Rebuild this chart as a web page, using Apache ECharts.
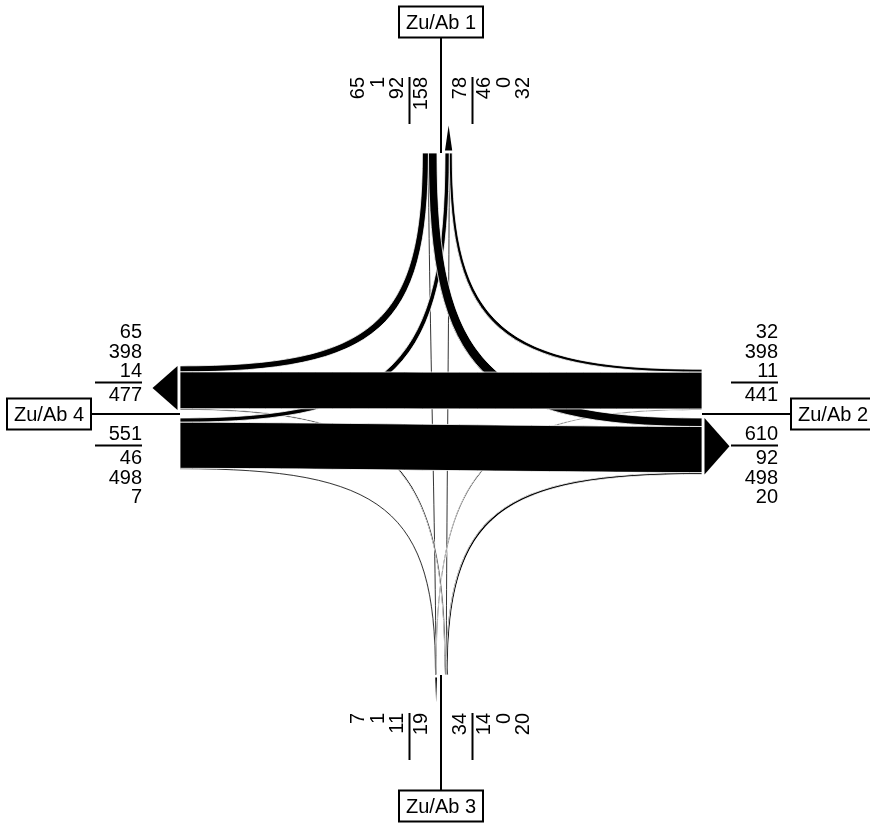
<!DOCTYPE html>
<html>
<head>
<meta charset="utf-8">
<title>Knotenstrombelastungsplan</title>
<script src="https://cdn.jsdelivr.net/npm/echarts@6/dist/echarts.min.js"></script>
<style>
  html, body { margin: 0; padding: 0; background: #fff; }
  #main { width: 870px; height: 824px; }
</style>
</head>
<body>
<div id="main"></div>
<script>
// Zufahrten, im Uhrzeigersinn ab Nord
const armNames = ['Zu/Ab 1', 'Zu/Ab 2', 'Zu/Ab 3', 'Zu/Ab 4'];
// Knotenströme [Kfz]: von Zufahrt -> nach Zufahrt 1..4 (null = kein Wenden)
const vonArm1 = [null, 92, 1, 65];
const vonArm2 = [32, null, 11, 398];
const vonArm3 = [0, 20, null, 14];
const vonArm4 = [46, 498, 7, null];
const flowTable = [vonArm1, vonArm2, vonArm3, vonArm4];

// Layout (px)
const K = 0.0925;          // Bandbreite pro Kfz
const R = 261;             // Mitte -> Bandende
const GAP = 4;             // Abstand Mittellinie -> Band
const ALPHA = 0.8;         // Kontrollpunkte für Abbieger (1 = Ecke)
const BETA = 0.5;          // Kontrollpunkte für Geradeaus
const BOX_DIST = 392;
const LABEL_DIST = [290, 290, 299, 299];
const LABEL_LEN = 47;
const ROW_OFF = [19.5, 43.5, 63, 82.5];
const RULE_OFF = 31.5;
const DIRS = [[0, -1], [1, 0], [0, 1], [-1, 0]];
const FONT = 'Liberation Sans, Arial, sans-serif';

// Lage der Teilströme im Zufluss / Abfluss (innen -> außen)
const inOffset = [], outOffset = [];
for (let a = 0; a < 4; a++) {
  inOffset[a] = {};
  let o = GAP;
  [1, 2, 3].forEach(t => { const b = (a + t) % 4; inOffset[a][b] = o; o += flowTable[a][b] * K; });
}
for (let b = 0; b < 4; b++) {
  outOffset[b] = {};
  let o = GAP;
  [3, 2, 1].forEach(t => { const a = (b + t) % 4; outOffset[b][a] = o; o += flowTable[a][b] * K; });
}

const links = [];
flowTable.forEach((row, a) => row.forEach((v, b) => { if (v !== null) links.push([a, b, v]); }));
links.sort((p, q) => p[2] - q[2]);

function edgeCurve(a, b, oi, oo) {
  const ua = DIRS[a], ub = DIRS[b];
  const rIn = [ua[1], -ua[0]], rOut = [-ub[1], ub[0]];
  const S = [ua[0] * R + rIn[0] * oi, ua[1] * R + rIn[1] * oi];
  const E = [ub[0] * R + rOut[0] * oo, ub[1] * R + rOut[1] * oo];
  let s, e;
  if (ua[0] * ub[0] + ua[1] * ub[1] === 0) {
    s = ALPHA * (R - (E[0] * ua[0] + E[1] * ua[1]));
    e = ALPHA * (R - (S[0] * ub[0] + S[1] * ub[1]));
  } else {
    s = e = BETA * R;
  }
  return [S, [S[0] - ua[0] * s, S[1] - ua[1] * s], [E[0] - ub[0] * e, E[1] - ub[1] * e], E];
}

function renderFlow(params, api) {
  const a = api.value(0), b = api.value(1), v = api.value(2);
  const w = v * K;
  const oi = inOffset[a][b], oo = outOffset[b][a];
  const inner = edgeCurve(a, b, oi, oo).map(p => api.coord(p));
  const outer = edgeCurve(a, b, oi + w, oo + w).map(p => api.coord(p));
  const f = p => p[0].toFixed(2) + ' ' + p[1].toFixed(2);
  const d = 'M' + f(inner[0]) + ' C' + f(inner[1]) + ' ' + f(inner[2]) + ' ' + f(inner[3]) +
    ' L' + f(outer[3]) + ' C' + f(outer[2]) + ' ' + f(outer[1]) + ' ' + f(outer[0]) + ' Z';
  const children = [{
    type: 'path', shape: { pathData: d },
    style: { fill: '#000', stroke: '#fff', lineWidth: 0.8 }
  }];
  if (w < 1) {
    const m = edgeCurve(a, b, oi + w / 2, oo + w / 2).map(p => api.coord(p));
    const sh = { x1: m[0][0], y1: m[0][1], cpx1: m[1][0], cpy1: m[1][1], cpx2: m[2][0], cpy2: m[2][1], x2: m[3][0], y2: m[3][1] };
    children.push({ type: 'bezierCurve', shape: sh, style: { fill: null, stroke: '#fff', lineWidth: 1.8 } });
    children.push({ type: 'bezierCurve', shape: sh, style: { fill: null, stroke: '#000', lineWidth: 0.8 } });
  }
  return { type: 'group', children };
}

function renderArm(params, api) {
  const a = params.dataIndex;
  const u = DIRS[a], rIn = [u[1], -u[0]], rOut = [-u[1], u[0]];
  const P = (d, r, lat) => api.coord([u[0] * d + r[0] * lat, u[1] * d + r[1] * lat]);
  const children = [];

  // Mittellinie
  const l0 = P(R, rIn, 0), l1 = P(BOX_DIST, rIn, 0);
  children.push({ type: 'line', shape: { x1: l0[0], y1: l0[1], x2: l1[0], y2: l1[1] }, style: { stroke: '#000', lineWidth: 2 } });

  // Abfluss-Pfeil
  const outVals = [3, 2, 1].map(t => flowTable[(a + t) % 4][a]);
  const inVals = [1, 2, 3].map(t => flowTable[a][(a + t) % 4]);
  const outSum = outVals.reduce((s, v) => s + v, 0);
  const inSum = inVals.reduce((s, v) => s + v, 0);
  const W = outSum * K;
  children.push({
    type: 'polygon',
    shape: { points: [P(R + 2.5, rOut, GAP), P(R + 2.5, rOut, GAP + W), P(R + 27.5, rOut, GAP + W / 2)] },
    style: { fill: '#000' }
  });

  // Beschriftung Zufluss / Abfluss
  const D0 = LABEL_DIST[a], D1 = D0 + LABEL_LEN;
  const horizontal = u[1] === 0;
  const endAlong = horizontal ? Math.max(u[0] * D0, u[0] * D1) : Math.min(u[1] * D0, u[1] * D1);
  [[inSum, inVals, rIn], [outSum, outVals, rOut]].forEach(([sum, vals, r]) => {
    [sum].concat(vals).forEach((v, i) => {
      const lat = ROW_OFF[i];
      const pos = horizontal ? api.coord([endAlong, r[1] * lat + 1]) : api.coord([r[0] * lat, endAlong]);
      children.push({
        type: 'text', x: pos[0], y: pos[1], rotation: horizontal ? 0 : Math.PI / 2,
        style: { text: String(v), align: 'right', verticalAlign: 'middle', fontSize: 20, fontFamily: FONT, fill: '#000' }
      });
    });
    const q0 = P(D0, r, RULE_OFF), q1 = P(D1, r, RULE_OFF);
    children.push({ type: 'line', shape: { x1: q0[0], y1: q0[1], x2: q1[0], y2: q1[1] }, style: { stroke: '#000', lineWidth: 2 } });
  });

  // Zufahrtsbox
  const c = P(BOX_DIST, rIn, 0);
  children.push({ type: 'rect', shape: { x: c[0] - 42, y: c[1] - 15.5, width: 84, height: 31 }, style: { fill: '#fff', stroke: '#000', lineWidth: 2 } });
  children.push({
    type: 'text', x: c[0], y: c[1] + 1,
    style: { text: armNames[a], align: 'center', verticalAlign: 'middle', fontSize: 20, fontFamily: FONT, fill: '#000' }
  });
  return { type: 'group', children };
}

const chart = echarts.init(document.getElementById('main'));
chart.setOption({
  animation: false,
  grid: { left: 0, right: 0, top: 0, bottom: 0 },
  xAxis: { type: 'value', min: -441, max: 429, show: false },
  yAxis: { type: 'value', min: -414, max: 410, inverse: true, show: false },
  series: [
    {
      type: 'custom',
      name: 'Ströme',
      coordinateSystem: 'cartesian2d',
      clip: false,
      silent: true,
      renderItem: renderFlow,
      data: links
    },
    {
      type: 'custom',
      name: 'Zufahrten',
      coordinateSystem: 'cartesian2d',
      clip: false,
      silent: true,
      renderItem: renderArm,
      data: armNames.map(n => ({ name: n, value: [0, 0] }))
    }
  ]
});
</script>
</body>
</html>
